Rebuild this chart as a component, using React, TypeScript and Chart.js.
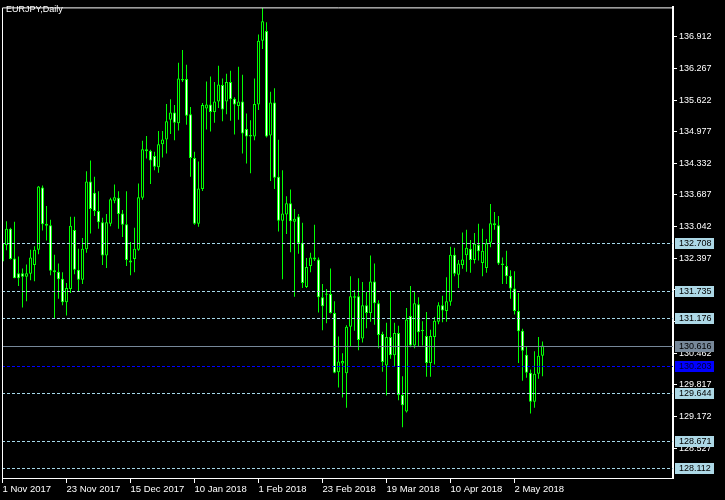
import React, { useEffect, useRef } from 'react';
import { Chart, registerables } from 'chart.js';

Chart.register(...registerables);

const symbolTitle = 'EURJPY,Daily';

const opens = [
  132.71, 132.66, 133.0, 132.39, 132.09, 132.09, 132.02, 132.08, 132.26, 132.57,
  133.84, 133.06, 133.07, 132.15, 132.12, 131.98, 131.5, 131.77, 132.97, 132.16,
  131.96, 132.58, 133.96, 133.73, 133.36, 133.13, 132.45, 133.1, 133.57, 133.63,
  133.31, 133.09, 132.35, 132.38, 132.57, 133.63, 134.58, 134.59, 134.48, 134.25,
  134.72, 134.82, 135.22, 135.37, 135.15, 136.02, 136.05, 135.33, 134.44, 133.1,
  133.81, 135.45, 135.53, 135.38, 135.59, 135.93, 135.59, 135.99, 135.65, 135.5,
  135.59, 135.03, 134.91, 134.88, 135.53, 136.83, 137.03, 134.9, 135.57, 134.06,
  133.16, 133.29, 133.52, 133.14, 133.25, 132.71, 131.81, 132.24, 132.37, 132.37,
  131.6, 131.65, 131.67, 131.28, 130.07, 130.25, 130.05, 131.0, 131.62, 131.62,
  130.76, 131.44, 131.28, 131.92, 131.48, 130.85, 130.21, 130.79, 130.42, 130.87,
  129.61, 129.27, 131.22, 130.62, 131.46, 130.91, 130.81, 130.26, 130.79, 131.1,
  131.44, 131.32, 131.51, 132.47, 132.06, 132.26, 132.46, 132.59, 132.36, 132.67,
  132.3, 132.2, 132.71, 133.07, 133.07, 132.26, 132.24, 132.04, 131.78, 131.32,
  130.92, 130.43, 130.06, 129.47, 130.04, 130.41,
];

const highs = [
  132.75, 133.15, 133.02, 133.14, 132.43, 132.19, 132.27, 132.57, 132.64, 133.87,
  133.88, 133.46, 133.18, 132.47, 132.29, 132.11, 131.89, 133.24, 133.24, 132.59,
  132.81, 134.17, 134.39, 134.06, 133.76, 133.22, 133.3, 133.63, 133.9, 133.76,
  133.38, 133.76, 132.73, 133.02, 133.92, 134.79, 134.89, 134.61, 134.57, 134.99,
  134.99, 135.54, 135.64, 135.52, 136.38, 136.64, 136.34, 135.48, 134.57, 134.37,
  135.56, 136.0, 136.1, 135.99, 136.32, 136.06, 136.16, 136.22, 135.68, 136.3,
  136.14, 135.35, 135.21, 136.06, 136.96, 137.5, 137.21, 135.79, 135.86, 134.81,
  134.19, 133.66, 133.8, 133.4, 133.3, 133.12, 132.4, 132.51, 133.08, 132.41,
  131.87, 131.77, 132.19, 131.52, 130.8, 130.46, 131.03, 132.03, 131.75, 131.99,
  131.91, 131.71, 132.45, 132.29, 131.54, 130.9, 131.08, 131.73, 131.08, 131.02,
  129.99, 131.38, 131.83, 131.73, 131.6, 131.11, 131.3, 130.94, 131.2, 131.5,
  131.63, 132.01, 132.63, 132.61, 132.36, 132.92, 132.98, 132.77, 132.91, 133.1,
  133.0, 132.79, 133.5, 133.34, 133.26, 132.41, 132.55, 132.15, 132.13, 131.69,
  130.96, 130.6, 130.13, 130.5, 130.79, 130.7,
];

const lows = [
  132.3, 132.56, 132.37, 131.99, 131.83, 131.39, 131.52, 131.95, 131.93, 132.48,
  132.96, 132.76, 132.05, 131.17, 131.57, 131.44, 131.23, 131.69, 132.07, 131.72,
  131.87, 132.51, 132.9, 133.26, 133.0, 132.26, 132.2, 133.05, 133.52, 133.0,
  132.83, 132.24, 132.05, 132.11, 132.55, 133.59, 134.43, 133.91, 134.19, 134.14,
  134.45, 134.53, 134.93, 134.8, 135.0, 135.99, 135.12, 134.06, 133.08, 133.04,
  133.77, 135.02, 134.98, 135.16, 135.46, 135.19, 135.33, 135.2, 134.92, 135.22,
  134.53, 134.33, 134.13, 134.8, 135.42, 136.66, 134.86, 133.97, 133.81, 132.94,
  131.97, 132.89, 132.52, 131.61, 132.49, 131.79, 131.79, 132.11, 132.34, 131.29,
  130.93, 131.07, 131.27, 130.05, 129.76, 129.56, 129.35, 130.6, 130.92, 130.52,
  130.68, 130.97, 131.1, 131.04, 130.56, 130.08, 129.6, 130.35, 130.19, 129.5,
  128.95, 129.25, 130.58, 130.56, 130.61, 130.62, 129.98, 129.98, 130.23, 131.05,
  131.09, 131.1, 131.43, 132.03, 131.79, 132.18, 132.12, 132.1, 132.29, 132.35,
  132.03, 132.1, 132.62, 132.98, 132.26, 131.87, 131.87, 131.57, 131.25, 130.26,
  129.9, 129.96, 129.23, 129.35, 129.94, 129.99,
];

const closes = [
  132.33, 133.0, 132.38, 131.99, 131.99, 132.02, 132.09, 132.41, 132.57, 133.86,
  133.09, 133.1, 132.14, 132.11, 131.97, 131.5, 131.79, 133.06, 132.16, 131.96,
  132.59, 133.96, 133.4, 133.36, 133.13, 132.45, 133.13, 133.6, 133.64, 133.3,
  133.08, 132.36, 132.31, 132.59, 133.64, 134.62, 134.62, 134.39, 134.26, 134.72,
  134.82, 135.19, 135.37, 135.16, 136.06, 136.05, 135.3, 134.44, 133.1, 133.82,
  135.52, 135.53, 135.38, 135.59, 135.94, 135.43, 135.99, 135.64, 135.53, 135.59,
  134.94, 134.88, 134.88, 135.54, 136.83, 137.23, 134.88, 135.57, 134.04, 133.16,
  133.31, 133.52, 133.15, 133.2, 132.7, 131.89, 132.22, 132.41, 132.41, 131.6,
  131.42, 131.68, 131.28, 130.06, 130.29, 130.3, 131.0, 131.62, 131.59, 130.73,
  131.44, 131.28, 131.92, 131.48, 130.83, 130.28, 130.79, 130.42, 130.87, 129.61,
  129.4, 131.15, 130.62, 131.48, 130.89, 130.94, 130.26, 130.81, 131.12, 131.44,
  131.33, 131.52, 132.47, 132.08, 132.29, 132.37, 132.61, 132.36, 132.69, 132.54,
  132.55, 132.7, 133.11, 133.11, 132.29, 132.29, 132.03, 131.78, 131.32, 130.91,
  130.51, 130.06, 129.47, 130.04, 130.41, 130.62,
];

const dateLabels = [
  '1 Nov 2017', '23 Nov 2017', '15 Dec 2017', '10 Jan 2018', '1 Feb 2018',
  '23 Feb 2018', '19 Mar 2018', '10 Apr 2018', '2 May 2018',
];
const dateTickIndex = [0, 16, 32, 48, 64, 80, 96, 112, 128];

const priceTicks = [
  136.912, 136.267, 135.622, 134.977, 134.332, 133.687, 133.042,
  132.397, 131.752, 131.107, 130.462, 129.817, 129.172, 128.527,
];

const levelLines = [132.708, 131.735, 131.176, 129.644, 128.671, 128.112];
const bluePrice = 130.203;
const bidPrice = 130.616;

const Y_MIN = 127.9164;
const Y_MAX = 137.5106;
const X_MIN = -0.125;
const X_MAX = 167.625;

const FONT = '"Liberation Sans", Arial, sans-serif';

const mtPlugin = {
  id: 'mtDecor',
  afterDatasetsDraw(chart: any) {
    const { ctx, chartArea: a, scales } = chart;
    const y = scales.y;
    ctx.save();
    ctx.beginPath();
    ctx.rect(a.left, a.top, a.right - a.left, a.bottom - a.top);
    ctx.clip();
    const line = (v: number, color: string, dash: number[]) => {
      const py = Math.round(y.getPixelForValue(v)) + 0.5;
      ctx.strokeStyle = color;
      ctx.lineWidth = 1;
      ctx.setLineDash(dash);
      ctx.beginPath();
      ctx.moveTo(a.left, py);
      ctx.lineTo(a.right, py);
      ctx.stroke();
    };
    levelLines.forEach((v) => line(v, '#a6d8ea', [3, 2]));
    line(bluePrice, '#0000ff', [3, 2]);
    line(bidPrice, '#778899', []);
    ctx.restore();
  },
  afterDraw(chart: any) {
    const { ctx, chartArea: a, scales } = chart;
    const y = scales.y;
    ctx.save();
    ctx.setLineDash([]);
    ctx.strokeStyle = '#ffffff';
    ctx.lineWidth = 1;
    ctx.beginPath();
    ctx.moveTo(a.left + 0.5, a.bottom);
    ctx.lineTo(a.left + 0.5, a.top + 0.5);
    ctx.lineTo(a.right + 1, a.top + 0.5);
    ctx.stroke();

    ctx.font = '9px ' + FONT;
    ctx.textBaseline = 'middle';
    ctx.textAlign = 'left';
    ctx.fillStyle = '#ffffff';
    ctx.fillText(symbolTitle, 6, 10);

    const box = (v: number, bg: string, fg: string) => {
      const py = Math.round(y.getPixelForValue(v));
      ctx.fillStyle = bg;
      ctx.fillRect(a.right + 2, py - 5, 39, 11);
      ctx.fillStyle = fg;
      ctx.fillText(v.toFixed(3), a.right + 6, py + 0.5);
    };
    levelLines.forEach((v) => box(v, '#add8e6', '#000000'));
    box(bidPrice, '#778899', '#000000');
    box(bluePrice, '#0000ff', '#000030');
    ctx.restore();
  },
};

export default function App() {
  const ref = useRef<HTMLCanvasElement | null>(null);

  useEffect(() => {
    if (!ref.current) return;
    const idx = opens.map((_, i) => i);
    const bodies = idx.map((i) => ({ x: i, y: [opens[i], closes[i]] }));
    const wicks = idx.map((i) => ({ x: i, y: [lows[i], highs[i]] }));
    const bodyFill = idx.map((i) => (closes[i] >= opens[i] ? '#000000' : '#ffffff'));

    const chart = new Chart(ref.current, {
      type: 'bar',
      data: {
        datasets: [
          {
            label: 'body',
            data: bodies as any,
            backgroundColor: bodyFill,
            borderColor: '#00ff00',
            borderWidth: 1,
            borderSkipped: false,
            inflateAmount: 0,
            barThickness: 3,
            grouped: false,
            order: 1,
          } as any,
          {
            label: 'wick',
            data: wicks as any,
            backgroundColor: '#00ff00',
            borderWidth: 0,
            borderSkipped: false,
            inflateAmount: 0,
            barThickness: 1,
            grouped: false,
            order: 2,
          } as any,
        ],
      },
      options: {
        animation: false,
        responsive: false,
        maintainAspectRatio: false,
        layout: { padding: { left: 2, top: 2, right: 0, bottom: 0 } },
        plugins: {
          legend: { display: false },
          tooltip: { enabled: false },
          title: { display: false },
        },
        scales: {
          x: {
            type: 'linear',
            min: X_MIN,
            max: X_MAX,
            offset: false,
            afterBuildTicks: (scale: any) => {
              scale.ticks = dateTickIndex.map((v) => ({ value: v }));
            },
            afterFit: (scale: any) => {
              scale.height = 22;
            },
            grid: {
              offset: false,
              drawOnChartArea: false,
              drawTicks: true,
              tickLength: 5,
              color: '#ffffff',
              tickColor: '#ffffff',
            },
            border: { display: true, color: '#ffffff', width: 1 },
            ticks: {
              autoSkip: false,
              maxRotation: 0,
              minRotation: 0,
              align: 'start',
              padding: 1,
              color: '#ffffff',
              font: { family: FONT, size: 9.5 },
              callback: (_v: any, i: number) => dateLabels[i],
            },
          },
          y: {
            type: 'linear',
            position: 'right',
            min: Y_MIN,
            max: Y_MAX,
            afterBuildTicks: (scale: any) => {
              scale.ticks = priceTicks.map((v) => ({ value: v }));
            },
            afterFit: (scale: any) => {
              scale.width = 52;
            },
            grid: {
              drawOnChartArea: false,
              drawTicks: true,
              tickLength: 4,
              color: '#ffffff',
              tickColor: '#ffffff',
            },
            border: { display: true, color: '#ffffff', width: 2 },
            ticks: {
              autoSkip: false,
              padding: 2,
              color: '#ffffff',
              font: { family: FONT, size: 9 },
              callback: (v: any) => Number(v).toFixed(3),
            },
          },
        },
      } as any,
      plugins: [mtPlugin],
    });
    return () => chart.destroy();
  }, []);

  return (
    <div
      style={{
        position: 'fixed',
        left: 0,
        top: 0,
        width: 725,
        height: 500,
        background: '#000000',
      }}
    >
      <canvas ref={ref} width={725} height={500} style={{ display: 'block' }} />
    </div>
  );
}
